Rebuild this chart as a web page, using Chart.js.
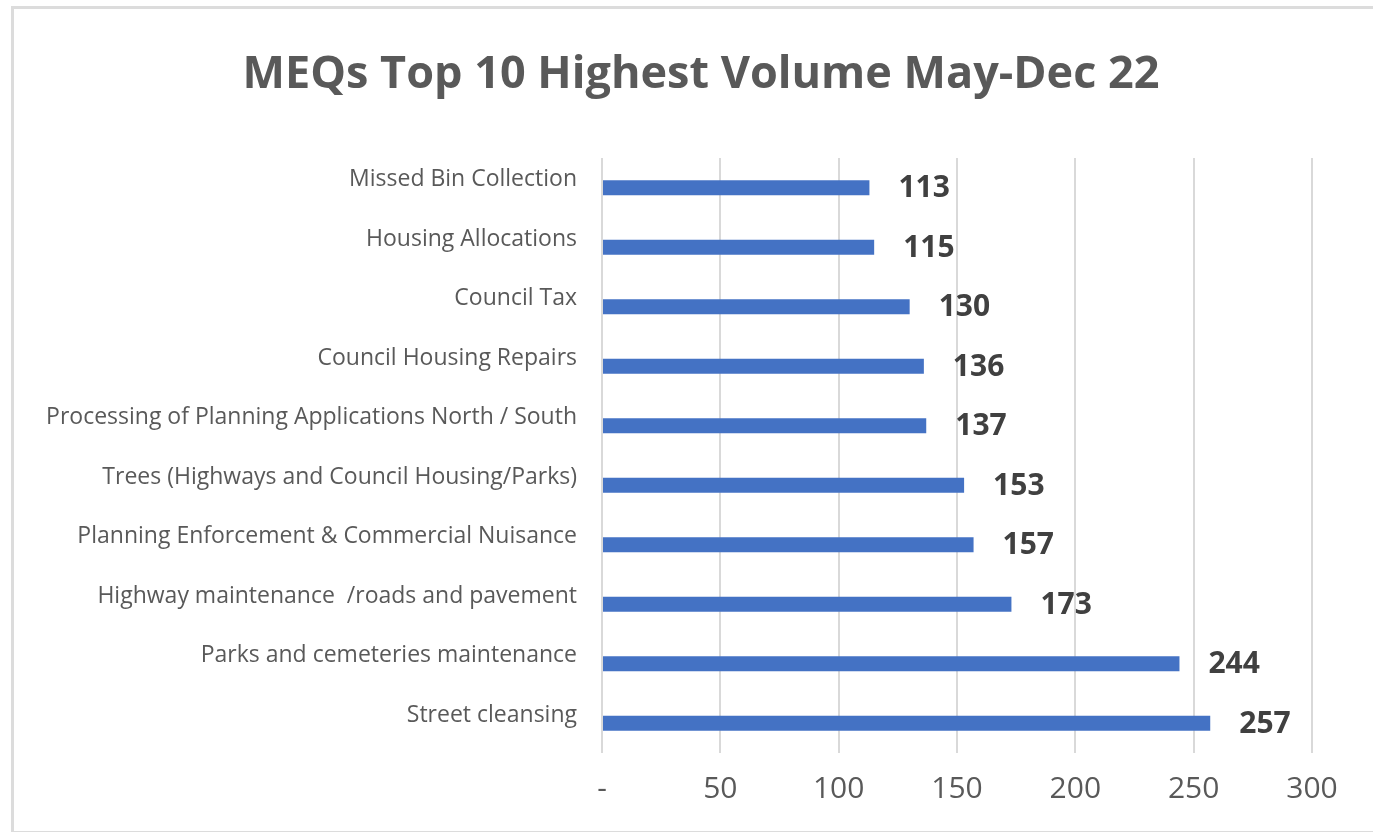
<!DOCTYPE html>
<html>
<head>
<meta charset="utf-8">
<script src="https://cdn.jsdelivr.net/npm/chart.js@4"></script>
<style>
body { margin: 0; background: #fff; overflow: hidden; }
#frame { position: absolute; left: 11px; top: 6px; width: 1400px; height: 822px; border: 3px solid #dcdcdc; }
#chart { position: absolute; left: 0; top: 0; }
</style>
</head>
<body>
<div id="frame"></div>
<canvas id="chart" width="1373" height="832"></canvas>
<script>
// top to bottom, as in the chart
const categories = [
	'Missed Bin Collection',
	'Housing Allocations',
	'Council Tax',
	'Council Housing Repairs',
	'Processing of Planning Applications North / South',
	'Trees (Highways and Council Housing/Parks)',
	'Planning Enforcement & Commercial Nuisance',
	'Highway maintenance  /roads and pavement',
	'Parks and cemeteries maintenance',
	'Street cleansing'
]
const volumes = [113, 115, 130, 136, 137, 153, 157, 173, 244, 257]
const xTickLabels = ['-', '50', '100', '150', '200', '250', '300']

const font = "'Open Sans', sans-serif"
const grey = '#595959'

// value labels at the end of each bar
const barValues = {
	id: 'barValues',
	afterDatasetsDraw: function (chart) {
		var ctx = chart.ctx
		var meta = chart.getDatasetMeta(0)
		ctx.save()
		ctx.font = 'bold 30px ' + font
		ctx.fillStyle = '#404040'
		ctx.textAlign = 'left'
		ctx.textBaseline = 'middle'
		meta.data.forEach(function (bar, i) {
			ctx.fillText(String(volumes[i]), bar.x + 29, bar.y + 1)
		})
		ctx.restore()
	}
}

// the title sits a little right of the canvas centre in the original
const titleShift = {
	id: 'titleShift',
	afterLayout: function (chart) {
		chart.titleBlock.left += 60
	}
}

new Chart(document.getElementById('chart'), {
	type: 'bar',
	data: {
		labels: categories,
		datasets: [{
			label: 'Volume',
			data: volumes,
			backgroundColor: '#4472C4',
			borderWidth: 0,
			barPercentage: 0.25,
			categoryPercentage: 1
		}]
	},
	options: {
		indexAxis: 'y',
		responsive: false,
		animation: false,
		layout: { padding: { left: 30, right: 61, top: 0, bottom: 7 } },
		plugins: {
			legend: { display: false },
			tooltip: { enabled: false },
			title: {
				display: true,
				text: 'MEQs Top 10 Highest Volume May-Dec 22',
				color: grey,
				font: { family: font, size: 45, weight: 'bold', lineHeight: 1.2 },
				padding: { top: 48, bottom: 56 }
			}
		},
		scales: {
			x: {
				min: 0,
				max: 300,
				ticks: {
					stepSize: 50,
					color: grey,
					padding: 18,
					font: { family: font, size: 30, lineHeight: 1.2 },
					callback: function (v, i) { return xTickLabels[i] }
				},
				grid: { color: '#d9d9d9', lineWidth: 2, drawTicks: false },
				border: { display: false }
			},
			y: {
				ticks: {
					color: grey,
					padding: 25,
					labelOffset: -8,
					font: { family: font, size: 23 }
				},
				grid: { display: false, drawTicks: false },
				border: { display: false },
				afterFit: function (scale) { scale.width = 572 }
			}
		}
	},
	plugins: [barValues, titleShift]
})
</script>
</body>
</html>
